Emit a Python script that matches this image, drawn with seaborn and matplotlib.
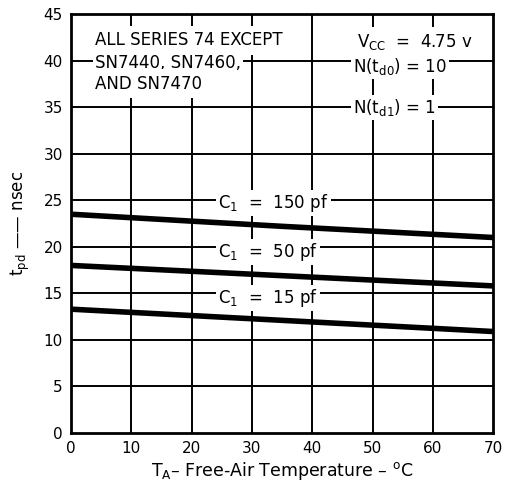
"""
Propagation delay vs free-air temperature, series 74 gates
"""

import matplotlib
matplotlib.use('Agg')
import matplotlib.pyplot as plt
import seaborn as sns
import pandas as pd

# Values
temps = [0, 35, 70]
tpd_150pf = [23.5, 22.2, 21.0]
tpd_50pf = [18.0, 16.9, 15.8]
tpd_15pf = [13.3, 12.1, 10.9]
loads = ['150 pf', '50 pf', '15 pf']
x_ticks = [0, 10, 20, 30, 40, 50, 60, 70]
y_ticks = [0, 5, 10, 15, 20, 25, 30, 35, 40, 45]

# General plot parameters
font = {'fontsize': 12, 'color': 'black'}
box = {'facecolor': 'white', 'edgecolor': 'none', 'pad': 1.5}
big_box = {'facecolor': 'white', 'edgecolor': 'none', 'pad': 4}


def main():
    sns.set_style('white')
    plt.rcParams['font.family'] = ['DejaVu Sans']
    plt.rcParams['mathtext.default'] = 'regular'

    # Long-form table for seaborn
    df = pd.DataFrame({
        'T': temps * 3,
        'tpd': tpd_150pf + tpd_50pf + tpd_15pf,
        'load': [loads[0]] * 3 + [loads[1]] * 3 + [loads[2]] * 3,
    })

    fig = plt.figure(figsize=(5.11, 4.94), dpi=100)
    ax = fig.add_axes([0.139, 0.1235, 0.826, 0.848])

    # Grid first so text boxes can cover it
    for xv in x_ticks[1:-1]:
        ax.axvline(xv, color='black', lw=1.4, zorder=1)
    for yv in y_ticks[1:-1]:
        ax.axhline(yv, color='black', lw=1.4, zorder=1)

    sns.lineplot(data=df, x='T', y='tpd', hue='load',
                 palette=['black'] * 3, lw=4, legend=False, ax=ax, zorder=3)

    # Curve labels
    for lbl, yv in zip(loads, [24.7, 19.4, 14.5]):
        ax.text(24.4, yv, r'$C_1$  =  ' + lbl, va='center', ha='left',
                bbox=box, zorder=2, **font)

    # Condition notes
    ax.text(4.0, 42.2, 'ALL SERIES 74 EXCEPT', va='center', bbox=big_box, zorder=2, **font)
    ax.text(4.0, 39.7, 'SN7440, SN7460,', va='center', bbox=box, zorder=2, **font)
    ax.text(4.0, 37.5, 'AND SN7470', va='center', bbox=big_box, zorder=2, **font)
    ax.text(47.4, 42.0, r'$V_{CC}$  =  4.75 v', va='center', bbox=big_box, zorder=2, **font)
    ax.text(46.8, 39.4, r'$N(t_{d0})$ = 10', va='center', bbox=box, zorder=2, **font)
    ax.text(46.8, 35.0, r'$N(t_{d1})$ = 1', va='center', bbox=box, zorder=2, **font)

    # Axes
    ax.set_xlim(0, 70)
    ax.set_ylim(0, 45)
    ax.set_xticks(x_ticks)
    ax.set_yticks(y_ticks)
    ax.tick_params(labelsize=11, length=0, pad=6, colors='black')
    for sp in ax.spines.values():
        sp.set_visible(True)
        sp.set_color('black')
        sp.set_linewidth(2)

    ax.set_xlabel(r'$T_A$– Free-Air Temperature – $^{o}$C', labelpad=3,
                  fontsize=12.5, color='black')
    ax.set_ylabel(r'$t_{pd}$ —— nsec', labelpad=8, **font)

    fig.savefig('out.png', dpi=100, facecolor='white')


if __name__ == '__main__':
    main()
